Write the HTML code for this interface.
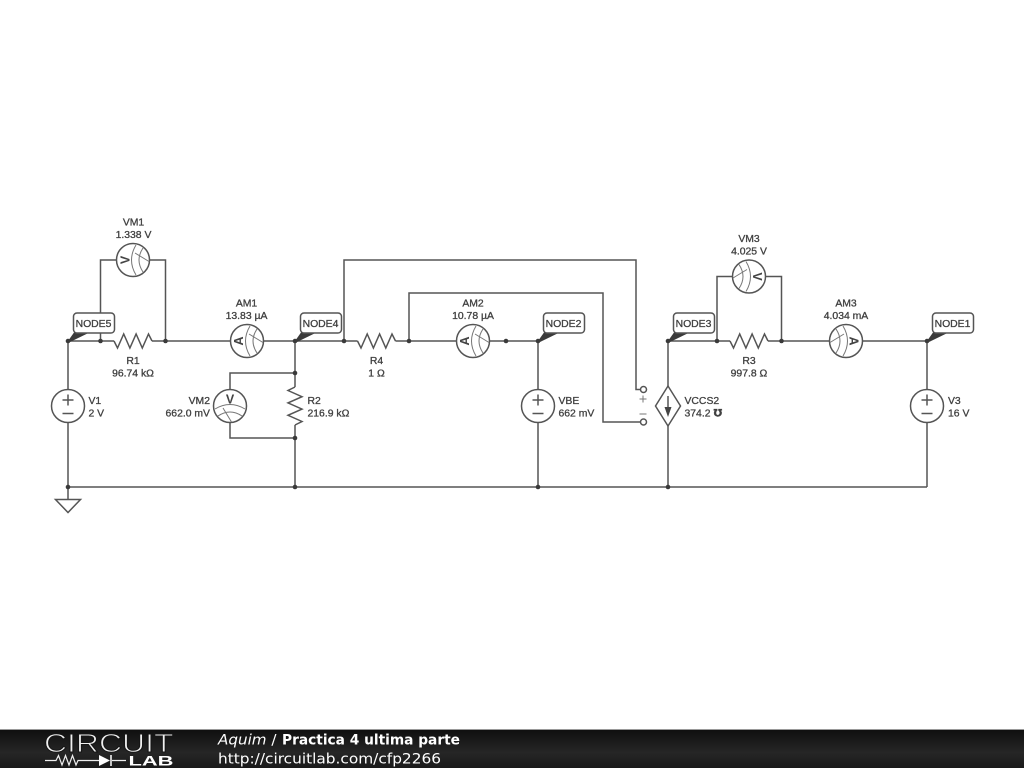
<!DOCTYPE html>
<html>
<head>
<meta charset="utf-8">
<title>Practica 4 ultima parte</title>
<style>
html,body{margin:0;padding:0;background:#fff;width:1024px;height:768px;overflow:hidden}
svg{display:block;position:absolute;left:0;top:0}
.w{fill:none;stroke:#555;stroke-width:1.5}
.c{fill:#fff;stroke:#555;stroke-width:1.5}
.g{fill:none;stroke:#777;stroke-width:1}
.t{font-family:"Liberation Sans",sans-serif;font-size:10.4px;fill:#404040;stroke:#404040;stroke-width:.3}
.m{text-anchor:middle}
.e{text-anchor:end}
.f{font-family:"DejaVu Sans",sans-serif;font-size:14.4px;fill:#fff}
</style>
</head>
<body>
<svg width="1024" height="768" viewBox="0 0 1024 768" xmlns="http://www.w3.org/2000/svg">
<defs>
<g id="gauge">
<circle r="16.5" class="c"/>
<path class="g" d="M-15 3Q0 -6 15 3M-12 10Q0 2 12 10M-7 2L1.5 16"/>
</g>
<g id="src">
<circle r="16.5" class="c"/>
<path class="w" d="M-5.5 -6H5.5M0 -11.5V-.5M-5.5 7.5H5.5"/>
</g>
<path id="res" class="w" d="M-19 0L-15.5 7L-9.3 -7L-3.1 7L3.1 -7L9.3 7L15.5 -7L19 0"/>
<g id="flag">
<path d="M0 0L6 -8.5H21.5L1 1.5Z" fill="#3a3a3a"/>
<rect x="5.5" y="-28" width="41" height="20" rx="3.5" ry="3.5" fill="#fff" stroke="#555" stroke-width="1.5"/>
</g>
<linearGradient id="bar" x1="0" y1="0" x2="0" y2="1">
<stop offset="0" stop-color="#0e0e0e"/><stop offset=".6" stop-color="#262626"/><stop offset="1" stop-color="#1a1a1a"/>
</linearGradient>
</defs>

<!-- wires -->
<path class="w" d="M68 341H114M152 341H230.5M263.5 341H357.5M395.5 341H456.5M489.5 341H538V389.5M538 422.5V487"/>
<path class="w" d="M668 341H730M768 341H829.5M862.5 341H927V389.5M927 422.5V487"/>
<path class="w" d="M68 341V389.5M68 422.5V500M68 487H927"/>
<path class="w" d="M295 341V387M295 425V487M295 373H230V389.5M230 422.5V438H295"/>
<path class="w" d="M100.5 341V260H116.5M149.5 260H165.5V341"/>
<path class="w" d="M717 341V276.5H732.5M765.5 276.5H781.5V341"/>
<path class="w" d="M344 341V260H636V389.5H640.5M409 341V293H603V422H640.5"/>
<path class="w" d="M668 341V386M668 426V487"/>

<!-- ground -->
<path class="c" d="M55.5 499.5H80.5L68 512.5Z"/>

<!-- resistors -->
<use href="#res" transform="translate(133,341)"/>
<use href="#res" transform="translate(376.5,341)"/>
<use href="#res" transform="translate(749,341)"/>
<use href="#res" transform="translate(295,406) rotate(90)"/>

<!-- sources -->
<use href="#src" transform="translate(68,406)"/>
<use href="#src" transform="translate(538,406)"/>
<use href="#src" transform="translate(927,406)"/>

<!-- meters -->
<use href="#gauge" transform="translate(133,260) rotate(-90) scale(-1,1)"/>
<use href="#gauge" transform="translate(247,341) rotate(-90) scale(-1,1)"/>
<use href="#gauge" transform="translate(230,406)"/>
<use href="#gauge" transform="translate(473,341) rotate(-90) scale(-1,1)"/>
<use href="#gauge" transform="translate(749,276.5) rotate(90)"/>
<use href="#gauge" transform="translate(846,341) rotate(90)"/>
<g font-family="Liberation Sans, sans-serif" font-size="12.5" font-weight="bold" fill="#444" text-anchor="middle">
<text transform="translate(129.5,260) rotate(-90)">V</text>
<text transform="translate(243,341) rotate(-90)">A</text>
<text x="230" y="403.5">V</text>
<text transform="translate(469,341) rotate(-90)">A</text>
<text transform="translate(753,276.5) rotate(90)">V</text>
<text transform="translate(849.5,341) rotate(90)">A</text>
</g>

<!-- VCCS -->
<path class="c" d="M668 386L680.5 406L668 426L655.5 406Z"/>
<path class="w" d="M668 396V412"/>
<path d="M664.5 407H671.5L668 417Z" fill="#444"/>
<circle cx="643.5" cy="389.5" r="3" class="c"/>
<circle cx="643.5" cy="422" r="3" class="c"/>
<path class="g" d="M639.5 399H646.5M643 395.5V402.5M639.5 414H646.5"/>

<!-- node flags -->
<use href="#flag" transform="translate(68,341)"/>
<use href="#flag" transform="translate(295,341)"/>
<use href="#flag" transform="translate(538,341)"/>
<use href="#flag" transform="translate(668,341)"/>
<use href="#flag" transform="translate(927,341)"/>

<!-- junctions -->
<g fill="#3a3a3a">
<circle cx="68" cy="341" r="2.3"/><circle cx="100.5" cy="341" r="2.3"/><circle cx="165.5" cy="341" r="2.3"/>
<circle cx="295" cy="341" r="2.3"/><circle cx="344" cy="341" r="2.3"/><circle cx="409" cy="341" r="2.3"/>
<circle cx="506" cy="341" r="2.3"/><circle cx="538" cy="341" r="2.3"/><circle cx="668" cy="341" r="2.3"/>
<circle cx="717" cy="341" r="2.3"/><circle cx="781.5" cy="341" r="2.3"/><circle cx="927" cy="341" r="2.3"/>
<circle cx="295" cy="373" r="2.3"/><circle cx="295" cy="438" r="2.3"/>
<circle cx="68" cy="487" r="2.3"/><circle cx="295" cy="487" r="2.3"/><circle cx="538" cy="487" r="2.3"/><circle cx="668" cy="487" r="2.3"/>
</g>

<!-- labels -->
<g class="t">
<text class="m" x="93.5" y="327">NODE5</text>
<text class="m" x="320.5" y="327">NODE4</text>
<text class="m" x="563.5" y="327">NODE2</text>
<text class="m" x="693.5" y="327">NODE3</text>
<text class="m" x="952.5" y="327">NODE1</text>

<text class="m" x="133.5" y="225.5">VM1</text><text class="m" x="133.5" y="238">1.338 V</text>
<text class="m" x="246.5" y="306.5">AM1</text><text class="m" x="246.5" y="319">13.83 µA</text>
<text class="m" x="473" y="306.5">AM2</text><text class="m" x="473" y="319">10.78 µA</text>
<text class="m" x="749" y="242">VM3</text><text class="m" x="749" y="254.5">4.025 V</text>
<text class="m" x="846" y="306.5">AM3</text><text class="m" x="846" y="319">4.034 mA</text>

<text class="m" x="133" y="364">R1</text><text class="m" x="133" y="376.5">96.74 kΩ</text>
<text class="m" x="376.5" y="364">R4</text><text class="m" x="376.5" y="376.5">1 Ω</text>
<text class="m" x="749" y="364">R3</text><text class="m" x="749" y="376.5">997.8 Ω</text>

<text class="e" x="210" y="404">VM2</text><text class="e" x="210" y="416.5">662.0 mV</text>
<text x="307.5" y="404">R2</text><text x="307.5" y="416.5">216.9 kΩ</text>
<text x="88.5" y="404">V1</text><text x="88.5" y="416.5">2 V</text>
<text x="558.5" y="404">VBE</text><text x="558.5" y="416.5">662 mV</text>
<text x="684.5" y="404">VCCS2</text><text x="684.5" y="416.5">374.2 <tspan font-family="DejaVu Sans, sans-serif" font-weight="bold">℧</tspan></text>
<text x="948" y="404">V3</text><text x="948" y="416.5">16 V</text>
</g>

<!-- footer -->
<rect x="0" y="729" width="1024" height="39" fill="url(#bar)"/>
<rect x="0" y="729" width="1024" height="1" fill="#999"/>

<text x="44" y="752" font-family="Liberation Sans, sans-serif" font-size="26" textLength="129.5" lengthAdjust="spacingAndGlyphs" fill="#f0f0f0" stroke="#161616" stroke-width=".95">CIRCUIT</text>
<path d="M45 760.5H56L58.5 755.5L62 765L65.5 755.5L69 765L72.5 755.5L76 765L78 760.5H99M112 760.5H126" fill="none" stroke="#eee" stroke-width="1.2"/>
<path d="M99 755V766L110 760.5Z" fill="#fff"/>
<path d="M111 755V766" stroke="#fff" stroke-width="1.5"/>
<text x="128.5" y="765.5" font-family="Liberation Sans, sans-serif" font-size="13.5" font-weight="bold" fill="#fff" textLength="45" lengthAdjust="spacingAndGlyphs">LAB</text>

<text class="f" x="218" y="744.5" textLength="58.5" lengthAdjust="spacingAndGlyphs"><tspan font-style="italic">Aquim</tspan> /</text>
<text class="f" x="282" y="744.5" font-weight="bold" textLength="178" lengthAdjust="spacingAndGlyphs">Practica 4 ultima parte</text>
<text class="f" x="218" y="763.5" textLength="223" lengthAdjust="spacingAndGlyphs">http://circuitlab.com/cfp2266</text>
</svg>
</body>
</html>
